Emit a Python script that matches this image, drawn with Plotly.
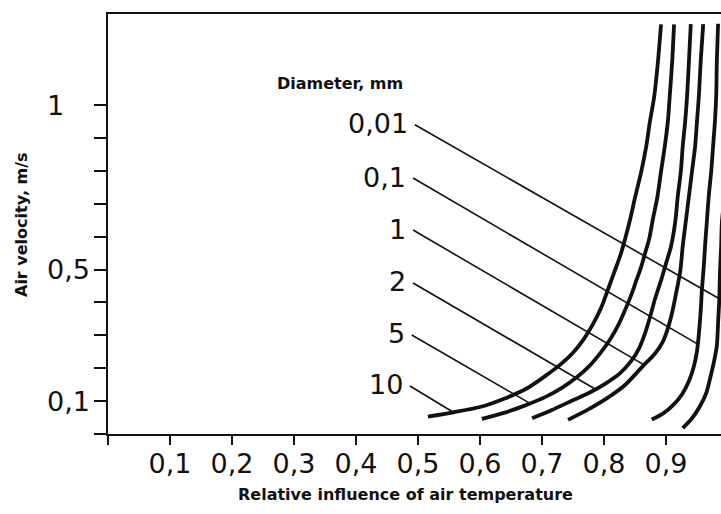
import numpy as np
import plotly.graph_objects as go

# Particle diameters (mm), one curve per diameter
diameters = ["0,01", "0,1", "1", "2", "5", "10"]

# Curve samples: x = relative influence of air temperature, y = air velocity (m/s)
x_d001 = [0.927, 0.942, 0.955, 0.965, 0.971, 0.977, 0.982, 0.984, 0.986, 0.987,
          0.989, 0.990, 0.994, 0.997, 1.000, 1.003]
y_d001 = [0.018, 0.048, 0.085, 0.125, 0.168, 0.216, 0.268, 0.338, 0.411, 0.490,
          0.572, 0.639, 0.724, 0.877, 1.029, 1.248]

x_d01 = [0.877, 0.895, 0.911, 0.926, 0.937, 0.945, 0.950, 0.953, 0.956, 0.958,
         0.961, 0.963, 0.966, 0.969, 0.973, 0.976, 0.979, 0.981, 0.982, 0.984]
y_d01 = [0.044, 0.062, 0.087, 0.121, 0.161, 0.206, 0.252, 0.304, 0.374, 0.441,
         0.511, 0.572, 0.648, 0.724, 0.800, 0.876, 0.952, 1.028, 1.134, 1.247]

x_d1 = [0.742, 0.774, 0.805, 0.834, 0.863, 0.882, 0.895, 0.903, 0.910, 0.916,
        0.923, 0.927, 0.932, 0.937, 0.942, 0.947, 0.950, 0.953, 0.956, 0.960]
y_d1 = [0.043, 0.074, 0.109, 0.149, 0.207, 0.244, 0.281, 0.321, 0.370, 0.425,
        0.495, 0.571, 0.647, 0.723, 0.799, 0.875, 0.951, 1.027, 1.134, 1.246]

x_d2 = [0.684, 0.716, 0.748, 0.777, 0.803, 0.826, 0.844, 0.857, 0.866, 0.874,
        0.882, 0.892, 0.900, 0.908, 0.915, 0.919, 0.924, 0.927, 0.931, 0.934,
        0.937, 0.940]
y_d2 = [0.048, 0.073, 0.101, 0.126, 0.154, 0.185, 0.222, 0.262, 0.305, 0.354,
        0.409, 0.467, 0.518, 0.570, 0.646, 0.723, 0.799, 0.875, 0.951, 1.027,
        1.133, 1.246]

x_d5 = [0.603, 0.640, 0.673, 0.705, 0.732, 0.757, 0.777, 0.795, 0.810, 0.823,
        0.834, 0.844, 0.852, 0.860, 0.866, 0.873, 0.879, 0.886, 0.892, 0.898,
        0.903, 0.906, 0.910, 0.913]
y_d5 = [0.046, 0.065, 0.087, 0.112, 0.140, 0.174, 0.208, 0.248, 0.288, 0.331,
        0.377, 0.423, 0.466, 0.508, 0.548, 0.594, 0.655, 0.719, 0.798, 0.874,
        0.950, 1.026, 1.133, 1.245]

x_d10 = [0.516, 0.557, 0.600, 0.640, 0.676, 0.705, 0.729, 0.750, 0.768, 0.782,
         0.795, 0.806, 0.816, 0.826, 0.834, 0.842, 0.850, 0.860, 0.868, 0.874,
         0.881, 0.887, 0.892]
y_d10 = [0.053, 0.066, 0.082, 0.108, 0.139, 0.176, 0.210, 0.247, 0.290, 0.333,
         0.382, 0.437, 0.489, 0.541, 0.593, 0.651, 0.718, 0.797, 0.873, 0.949,
         1.026, 1.132, 1.245]

curves_x = [x_d001, x_d01, x_d1, x_d2, x_d5, x_d10]
curves_y = [y_d001, y_d01, y_d1, y_d2, y_d5, y_d10]

# Leader lines: label anchor point and the velocity where each leader meets its curve
label_x = [0.495, 0.492, 0.492, 0.492, 0.490, 0.487]
label_y = [0.940, 0.778, 0.620, 0.459, 0.301, 0.146]
leader_end_y = [0.411, 0.273, 0.210, 0.136, 0.093, 0.066]

# Axis ticks
x_ticks = [0.0, 0.1, 0.2, 0.3, 0.4, 0.5, 0.6, 0.7, 0.8, 0.9, 1.0]
x_tick_text = ["", "0,1", "0,2", "0,3", "0,4", "0,5", "0,6", "0,7", "0,8", "0,9", ""]
y_ticks = [0.0, 0.1, 0.2, 0.3, 0.4, 0.5, 0.6, 0.7, 0.8, 0.9, 1.0]
y_label_vals = [1.0, 0.5, 0.1]
y_label_text = ["1", "0,5", "0,1"]

INK = "#111111"
BIG = dict(family="DejaVu Sans", size=27, color=INK)
SMALL = dict(family="DejaVu Sans", size=16, color=INK)

W, H = 721, 514
ML, MR, MT, MB = 108, 0, 14, 80
plot_w = W - ML - MR
plot_h = H - MT - MB
x_scale = 620.0   # px per unit on x
y_scale = 329.0   # px per unit on y

fig = go.Figure()

for cx, cy in zip(curves_x, curves_y):
    fig.add_trace(go.Scatter(
        x=cx, y=cy, mode="lines",
        line=dict(color=INK, width=3.8, shape="spline", smoothing=0.8),
        hoverinfo="skip",
    ))

annotations = []
for name, lx, ly, ey, cx, cy in zip(diameters, label_x, label_y, leader_end_y,
                                    curves_x, curves_y):
    ex = float(np.interp(ey, cy, cx))
    fig.add_trace(go.Scatter(
        x=[lx, ex], y=[ly, ey], mode="lines",
        line=dict(color=INK, width=1.6),
        hoverinfo="skip",
    ))
    annotations.append(dict(
        x=lx, y=ly, xref="x", yref="y", text=name, showarrow=False,
        xanchor="right", yanchor="middle", xshift=-5, yshift=1, font=BIG,
    ))

# Header over the diameter labels
annotations.append(dict(
    x=0.479, y=1.064, xref="x", yref="y", text="<b>Diameter, mm</b>",
    showarrow=False, xanchor="right", yanchor="middle", font=SMALL,
))

# Left-aligned y tick labels
for v, t in zip(y_label_vals, y_label_text):
    annotations.append(dict(
        x=(45 - ML) / plot_w, y=v, xref="paper", yref="y", text=t,
        showarrow=False, xanchor="left", yanchor="middle", font=BIG,
    ))

# Axis titles
annotations.append(dict(
    x=(405 - ML) / plot_w, y=(MT + plot_h - 495) / plot_h, xref="paper", yref="paper",
    text="<b>Relative influence of air temperature</b>", showarrow=False,
    xanchor="center", yanchor="middle", font=SMALL,
))
annotations.append(dict(
    x=(21 - ML) / plot_w, y=(MT + plot_h - 225) / plot_h, xref="paper", yref="paper",
    text="<b>Air velocity, m/s</b>", showarrow=False, textangle=-90,
    xanchor="center", yanchor="middle", font=SMALL,
))

fig.update_layout(
    width=W, height=H,
    margin=dict(l=ML, r=MR, t=MT, b=MB, pad=0),
    paper_bgcolor="white", plot_bgcolor="white",
    showlegend=False,
    annotations=annotations,
)
fig.update_xaxes(
    range=[0, plot_w / x_scale],
    tickmode="array", tickvals=x_ticks, ticktext=x_tick_text,
    ticks="outside", ticklen=9, tickwidth=2, tickcolor=INK,
    ticklabelstandoff=-4,
    showline=True, linewidth=2, linecolor=INK, mirror=True,
    showgrid=False, zeroline=False, tickfont=BIG,
)
fig.update_yaxes(
    range=[0, plot_h / y_scale],
    tickmode="array", tickvals=y_ticks, showticklabels=False,
    ticks="outside", ticklen=12, tickwidth=2, tickcolor=INK,
    showline=True, linewidth=2, linecolor=INK, mirror=False,
    showgrid=False, zeroline=False,
)

fig.write_html("out.html")
